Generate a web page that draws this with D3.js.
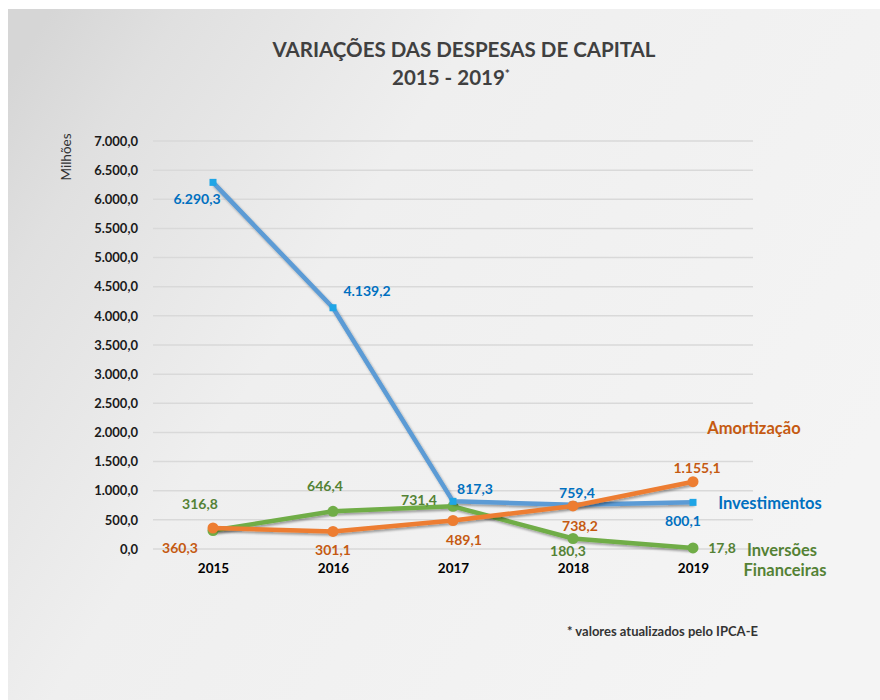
<!DOCTYPE html>
<html>
<head>
<meta charset="utf-8">
<script src="https://cdn.jsdelivr.net/npm/d3@7"></script>
<style>
  body { margin: 0; background: #ffffff; }
  #Canvas { width: 880px; height: 700px; }
  text { font-family: Lato, "Open Sans", sans-serif; }
</style>
</head>
<body>
<div id="Canvas"></div>
<script>
// dados (em milhões)
const anos = ["2015", "2016", "2017", "2018", "2019"]
const investimentos = [6290.3, 4139.2, 817.3, 759.4, 800.1]
const amortizacao = [360.3, 301.1, 489.1, 738.2, 1155.1]
const inversoes = [316.8, 646.4, 731.4, 180.3, 17.8]
const y_ticks = [0, 500, 1000, 1500, 2000, 2500, 3000, 3500, 4000, 4500, 5000, 5500, 6000, 6500, 7000]

// posição dos rótulos em relação ao ponto (dx, dy)
const off_inv = [[-16, 17], [34, -17], [22, -12], [4, -12], [-10, 19]]
const off_amo = [[-33, 20], [0, 19], [11, 20], [7, 20], [4, -14]]
const off_ifn = [[-13, -26], [-8, -25], [-34, -6], [-5, 13], [29, 0]]

const ptBR = d3.formatLocale({decimal: ",", thousands: ".", grouping: [3], currency: ["R$", ""]})
const fmt = ptBR.format(",.1f")

let svg = d3.select("#Canvas").append("svg")
    .attr("width", 880).attr("height", 700)

let defs = svg.append("defs")
let grad = defs.append("linearGradient").attr("id", "bg")
    .attr("x1", "0%").attr("y1", "10%").attr("x2", "100%").attr("y2", "60%")
grad.append("stop").attr("offset", "0%").attr("stop-color", "#d6d6d6")
grad.append("stop").attr("offset", "12%").attr("stop-color", "#e0e0e0")
grad.append("stop").attr("offset", "40%").attr("stop-color", "#efefef")
grad.append("stop").attr("offset", "100%").attr("stop-color", "#f4f4f4")

let shadow = defs.append("filter").attr("id", "sombra")
    .attr("x", "-10%").attr("y", "-10%").attr("width", "120%").attr("height", "130%")
shadow.append("feDropShadow").attr("dx", 1.5).attr("dy", 2).attr("stdDeviation", 1.3)
    .attr("flood-color", "#000").attr("flood-opacity", 0.35)

svg.append("rect").attr("x", 8).attr("y", 9).attr("width", 872).attr("height", 691)
    .attr("fill", "url(#bg)")

// título
let title = svg.append("text").attr("text-anchor", "middle")
    .style("font-weight", "bold").style("font-size", "20.5px").style("fill", "#404040")
    .style("white-space", "pre")
title.append("tspan").attr("x", 464).attr("y", 57).text("VARIAÇÕES DAS DESPESAS DE CAPITAL")
title.append("tspan").attr("x", 451).attr("y", 85).text("2015 - 2019")
title.append("tspan").attr("dy", -7).style("font-size", "12px").text("*")

let x = d3.scalePoint().domain(anos).range([153, 753]).padding(0.5)
let y = d3.scaleLinear().domain([0, 7000]).range([549, 141])

// grade
svg.append("g").selectAll("line").data(y_ticks).enter()
    .append("line")
    .attr("x1", 153).attr("x2", 753)
    .attr("y1", d => y(d)).attr("y2", d => y(d))
    .style("stroke", "#d9d9d9").style("stroke-width", "1.5px")

// eixo y
let yAxis = d3.axisLeft(y).tickValues(y_ticks).tickFormat(fmt).tickSize(0).tickPadding(0)
let gy = svg.append("g").attr("transform", "translate(138,0)").call(yAxis)
gy.select(".domain").remove()
gy.selectAll("text").style("font-size", "13px").style("font-weight", "bold")
    .style("fill", "#1a1a1a").style("font-family", "Lato, sans-serif")

// eixo x
let xAxis = d3.axisBottom(x).tickSize(0).tickPadding(0)
let gx = svg.append("g").attr("transform", "translate(0,563)").call(xAxis)
gx.select(".domain").remove()
gx.selectAll("text").style("font-size", "13.5px").style("font-weight", "bold")
    .style("fill", "#000").style("font-family", "Lato, sans-serif")

svg.append("text").attr("transform", "translate(71,157) rotate(-90)")
    .attr("text-anchor", "middle").style("font-size", "13.5px").style("fill", "#333")
    .text("Milhões")

let linha = d3.line().x((d, i) => x(anos[i])).y(d => y(d))

function desenha_serie(valores, cor, cor_marca, cor_texto, offs, forma) {
    let g = svg.append("g")
    g.append("path").attr("d", linha(valores))
        .attr("fill", "none").attr("stroke", cor).attr("stroke-width", 4.5)
        .attr("stroke-linejoin", "round").attr("filter", "url(#sombra)")
    if (forma === "quadrado") {
        g.selectAll("rect").data(valores).enter().append("rect")
            .attr("x", (d, i) => x(anos[i]) - 3.5).attr("y", d => y(d) - 3.5)
            .attr("width", 7).attr("height", 7).attr("fill", cor_marca)
    } else {
        g.selectAll("circle").data(valores).enter().append("circle")
            .attr("cx", (d, i) => x(anos[i])).attr("cy", d => y(d))
            .attr("r", 5.5).attr("fill", cor_marca)
    }
    svg.append("g").selectAll("text").data(valores).enter().append("text")
        .attr("x", (d, i) => x(anos[i]) + offs[i][0])
        .attr("y", (d, i) => y(d) + offs[i][1])
        .attr("dy", "0.35em").attr("text-anchor", "middle")
        .style("font-size", "14px").style("font-weight", "bold").style("fill", cor_texto)
        .text(d => fmt(d))
}

desenha_serie(inversoes, "#70ad47", "#70ad47", "#548235", off_ifn, "circulo")
desenha_serie(investimentos, "#5b9bd5", "#1fa5e6", "#0070c0", off_inv, "quadrado")
desenha_serie(amortizacao, "#ed7d31", "#ed7d31", "#c55a11", off_amo, "circulo")

// nomes das séries
const nomes = [
    {t: "Amortização", x: 754, y: 428, c: "#c55a11"},
    {t: "Investimentos", x: 770, y: 503, c: "#0070c0"},
    {t: "Inversões", x: 782, y: 550, c: "#548235"},
    {t: "Financeiras", x: 785, y: 570, c: "#548235"}
]
svg.append("g").selectAll("text").data(nomes).enter().append("text")
    .attr("x", d => d.x).attr("y", d => d.y).attr("dy", "0.35em")
    .attr("text-anchor", "middle")
    .style("font-size", "16.5px").style("font-weight", "bold").style("fill", d => d.c)
    .text(d => d.t)

svg.append("text").attr("x", 567).attr("y", 636)
    .style("font-size", "13px").style("font-weight", "bold").style("fill", "#333")
    .text("* valores atualizados pelo IPCA-E")
</script>
</body>
</html>
